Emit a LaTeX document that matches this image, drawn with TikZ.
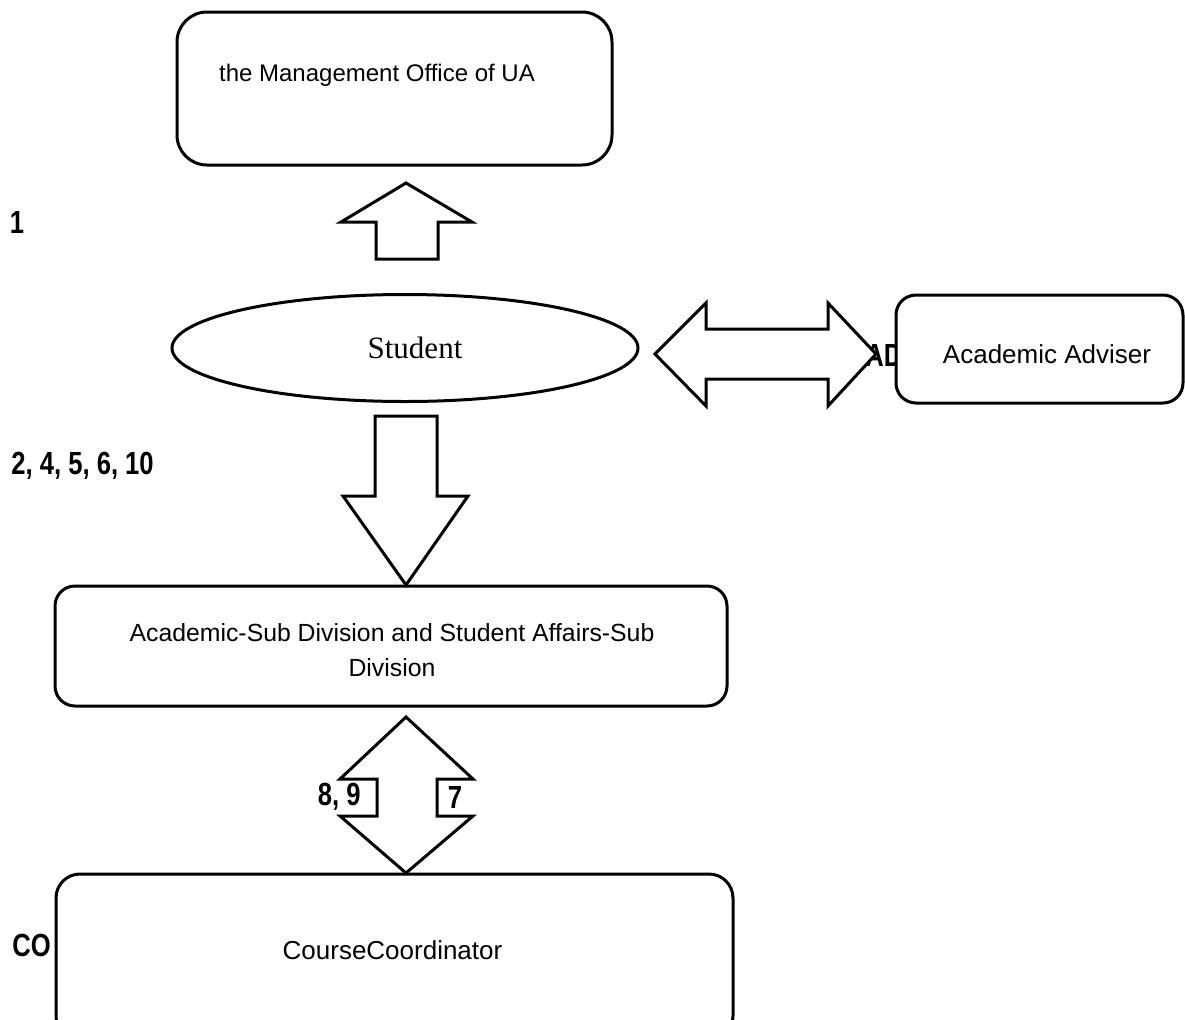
\documentclass[tikz,border=0pt]{standalone}
\usepackage{fontspec}
\usetikzlibrary{shapes.geometric}
\setmainfont{Liberation Sans}
\newfontfamily\serifface{Liberation Serif}
\newfontfamily\lblface[FakeStretch=0.8]{Liberation Sans}
\begin{document}
\begin{tikzpicture}[x=0.5pt,y=-0.5pt,
  box/.style={draw, line width=1.5pt, fill=white, inner sep=0pt},
  blockarrow/.style={draw, line width=1.5pt, fill=white, line join=miter},
  txt/.style={font=\fontsize{13}{15}\selectfont, inner sep=0pt},
  lbl/.style={font=\lblface\bfseries\fontsize{16}{18}\selectfont, inner sep=0pt}]
\useasboundingbox (0,0) rectangle (1185,1019);
\clip (0,0) rectangle (1185,1019);
% labels drawn beneath shapes
\node[lbl, anchor=west] (ad) at (865,355) {AD};
\node[lbl, anchor=west] (co) at (12,945) {CO};
\node[lbl] (l1) at (17,222) {1};
\node[lbl, anchor=west] (l2) at (11,466) {2, 4, 5, 6, 10};
% boxes
\node[box, rounded corners=15pt, minimum width=217.5pt, minimum height=76.5pt] (mo) at (394.5,88.5) {};
\node[txt, font=\fontsize{12}{14}\selectfont] (motxt) at (377,75) {the Management Office of UA};
\node[box, ellipse, minimum width=233pt, minimum height=53.5pt] (st) at (405,348) {};
\node[font=\serifface\fontsize{15.5}{17}\selectfont, inner sep=0pt] (sttxt) at (415,348) {Student};
\node[box, rounded corners=10pt, minimum width=336pt, minimum height=60pt] (as) at (391,646) {};
\node[txt, align=center, font=\fontsize{12.4}{17.5}\selectfont] (astxt) at (392,650) {Academic-Sub Division and Student Affairs-Sub\\Division};
\node[box, rounded corners=12pt, minimum width=338.5pt, minimum height=83pt] (cc) at (394.5,957) {};
\node[txt] (cctxt) at (392.5,950) {CourseCoordinator};
% arrows
\draw[blockarrow] (406,183) -- (341,222) -- (376,222) -- (376,259) -- (438,259) -- (438,222) -- (472,222) -- cycle;
\draw[blockarrow] (375,416) -- (437,416) -- (437,496) -- (468,496) -- (406,585) -- (343,496) -- (375,496) -- cycle;
\draw[blockarrow] (655,354) -- (706,303) -- (706,329) -- (828,329) -- (828,303) -- (876,354) -- (828,406) -- (828,379) -- (706,379) -- (706,406) -- cycle;
\draw[blockarrow] (406,717) -- (473,779) -- (437,779) -- (437,816) -- (473,816) -- (406,873) -- (340,816) -- (377,816) -- (377,779) -- (340,779) -- cycle;
\node[lbl, anchor=east] (l89) at (361,797) {8, 9};
\node[lbl] (l7) at (455,797) {7};
% adviser box on top
\node[box, rounded corners=10pt, minimum width=143.5pt, minimum height=54pt] (aa) at (1039.5,349) {};
\node[txt] (aatxt) at (1047,354) {Academic Adviser};
\end{tikzpicture}
\end{document}
